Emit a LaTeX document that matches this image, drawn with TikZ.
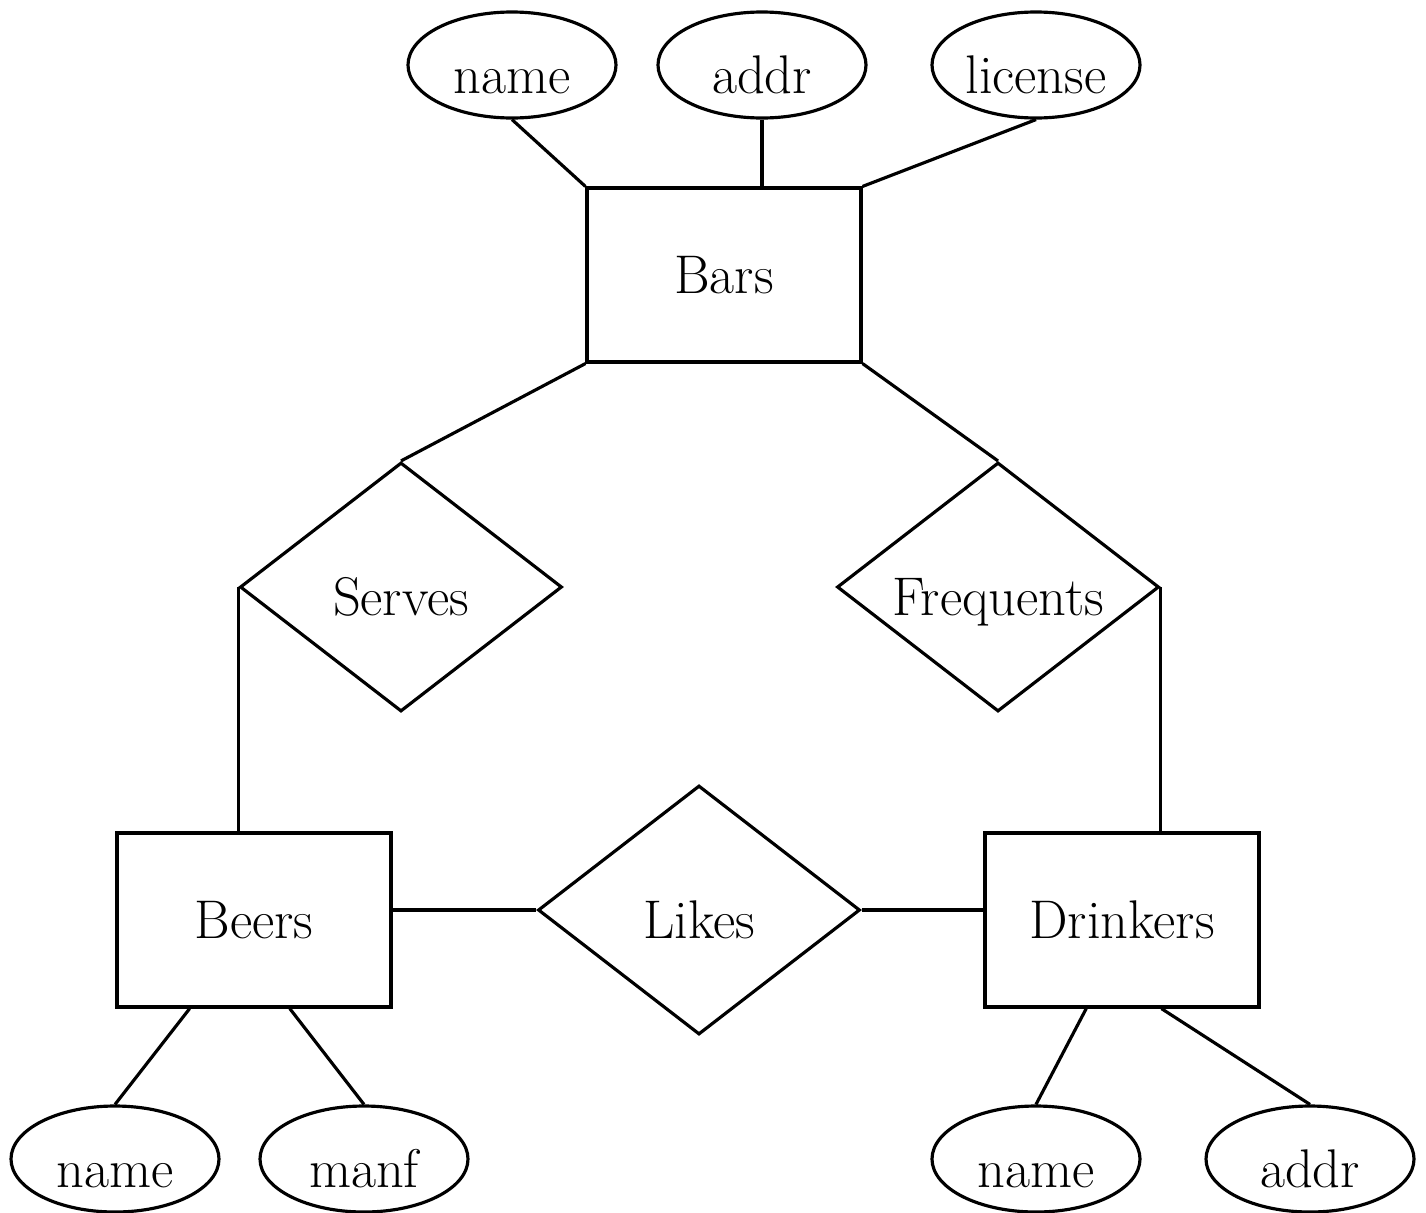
\documentclass[tikz,border=0pt]{standalone}
\usetikzlibrary{shapes.geometric}

\begin{document}
\begin{tikzpicture}
    [entitystyle/.style={draw,rectangle,line width=0.9pt,minimum width=2.74cm,minimum height=1.74cm,inner sep=0pt},
     relationstyle/.style={draw,diamond,aspect=1.29,line width=0.9pt,minimum width=3.22cm,minimum height=2.49cm,inner sep=0pt,text height=16pt,text depth=0pt},
     attributestyle/.style={draw,ellipse,line width=0.9pt,minimum width=2.08cm,minimum height=1.06cm,inner xsep=-2pt,inner ysep=0pt,text height=16pt,text depth=0pt},
     linkstyle/.style={line width=0.9pt},
     every node/.style={font=\fontsize{15.5}{18}\selectfont}]

    \useasboundingbox (0,0) rectangle (14.26,-12.12);

    % entities
    \node[entitystyle] (bars) at (7.24,-2.75) {Bars};
    \node[entitystyle] (beers) at (2.54,-9.20) {Beers};
    \node[entitystyle] (drinkers) at (11.22,-9.20) {Drinkers};

    % relationships
    \node[relationstyle] (serves) at (4.01,-5.87) {Serves};
    \node[relationstyle] (frequents) at (9.98,-5.87) {Frequents};
    \node[relationstyle] (likes) at (6.99,-9.10) {Likes};

    % attributes
    \node[attributestyle] (barname) at (5.12,-0.65) {name};
    \node[attributestyle] (baraddr) at (7.62,-0.65) {addr};
    \node[attributestyle] (barlicense) at (10.36,-0.65) {license};
    \node[attributestyle] (beername) at (1.15,-11.59) {name};
    \node[attributestyle] (beermanf) at (3.64,-11.59) {manf};
    \node[attributestyle] (drinkername) at (10.36,-11.59) {name};
    \node[attributestyle] (drinkeraddr) at (13.10,-11.59) {addr};

    \draw [linkstyle] (barname.south) -- (bars.north west);
    \draw [linkstyle] (baraddr.south) -- (baraddr.south |- bars.north);
    \draw [linkstyle] (barlicense.south) -- (bars.north east);
    \draw [linkstyle] (bars.south west) -- (serves.north);
    \draw [linkstyle] (bars.south east) -- (frequents.north);
    \draw [linkstyle] (serves.west) -- (serves.west |- beers.north);
    \draw [linkstyle] (frequents.east) -- (frequents.east |- drinkers.north);
    \draw [linkstyle] (beers.east |- likes.west) -- (likes.west);
    \draw [linkstyle] (likes.east) -- (drinkers.west |- likes.east);
    \draw [linkstyle] (beers.-126) -- (beername.north);
    \draw [linkstyle] (beers.-68) -- (beermanf.north);
    \draw [linkstyle] (drinkers.-112) -- (drinkername.north);
    \draw [linkstyle] (drinkers.-66) -- (drinkeraddr.north);
\end{tikzpicture}
\end{document}
